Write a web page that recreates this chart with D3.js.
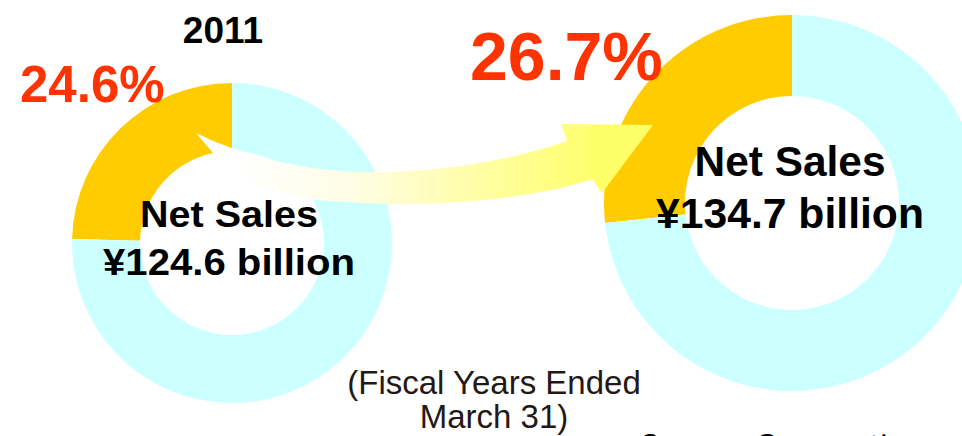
<!DOCTYPE html>
<html>
<head>
<meta charset="utf-8">
<script src="https://cdn.jsdelivr.net/npm/d3@7"></script>
<style>
  html, body { margin: 0; padding: 0; background: #ffffff; }
  svg { display: block; }
</style>
</head>
<body>
<svg id="chart" width="962" height="436"></svg>
<script>
// Share of net sales (percent) shown as the gold wedge of each ring
const shares = [24.6, 26.7];
// Net sales in billions of yen, printed in each ring's centre
const netSales = [124.6, 134.7];
// Year caption (only the earlier ring carries one)
const yearLabels = ["2011", null];
const footnote = ["(Fiscal Years Ended", "March 31)"];
const company = "Sysmex Corporation";

const svg = d3.select("#chart");

// Ring geometry for the two years
const rings = [
  { cx: 232, cy: 243, r0: 92,  r1: 160, pctX: 20,  pctY: 102, pctSize: 51,
    yearX: 223, yearY: 43, textSize: 36, l1Y: 227, l2Y: 275, l1W: 178, l2W: 252, textX: 229 },
  { cx: 792, cy: 203, r0: 107, r1: 188, pctX: 470, pctY: 80,  pctSize: 68,
    yearX: null, yearY: null, textSize: 42, l1Y: 176, l2Y: 228, l1W: 191, l2W: 268, textX: 790 }
];

const colors = { share: "#ffcc00", rest: "#ccffff", pct: "#ff3300" };

// Gold wedge grows counter-clockwise from 12 o'clock
const pie = d3.pie().sort(null).value(d => d.v)
  .startAngle(0).endAngle(-2 * Math.PI);

rings.forEach((g, i) => {
  const arc = d3.arc().innerRadius(g.r0).outerRadius(g.r1);
  const slices = pie([{ k: "share", v: shares[i] }, { k: "rest", v: 100 - shares[i] }]);
  svg.append("g")
    .attr("transform", `translate(${g.cx},${g.cy})`)
    .selectAll("path")
    .data(slices)
    .join("path")
    .attr("d", arc)
    .attr("fill", d => colors[d.data.k]);
});

// Curved growth arrow running from the first ring to the second
const defs = svg.append("defs");
const grad = defs.append("linearGradient")
  .attr("id", "arrowGrad")
  .attr("gradientUnits", "userSpaceOnUse")
  .attr("x1", 240).attr("y1", 0).attr("x2", 600).attr("y2", 0);
grad.append("stop").attr("offset", 0).attr("stop-color", "#ffffff");
grad.append("stop").attr("offset", 0.3).attr("stop-color", "#fffde6");
grad.append("stop").attr("offset", 1).attr("stop-color", "#ffff6a");

const a = d3.path();
a.moveTo(196, 133);
a.bezierCurveTo(230, 150, 280, 165, 330, 170);
a.bezierCurveTo(410, 178, 505, 163, 567, 141);
a.lineTo(561, 124);
a.lineTo(653, 125);
a.lineTo(602, 193);
a.lineTo(592, 179);
a.bezierCurveTo(550, 194, 450, 211, 330, 201);
a.bezierCurveTo(280, 198, 235, 178, 213, 153);
a.closePath();
svg.append("path").attr("d", a.toString()).attr("fill", "url(#arrowGrad)");

const fmtPct = d => d.toFixed(1) + "%";
const fmtSales = d => "¥" + d.toFixed(1) + " billion";
const boldFont = "'Liberation Sans', Arial, Helvetica, sans-serif";

rings.forEach((g, i) => {
  svg.append("text")
    .attr("x", g.pctX).attr("y", g.pctY)
    .attr("font-family", boldFont).attr("font-weight", "bold")
    .attr("font-size", g.pctSize).attr("fill", colors.pct)
    .text(fmtPct(shares[i]));

  if (yearLabels[i]) {
    svg.append("text")
      .attr("x", g.yearX).attr("y", g.yearY)
      .attr("text-anchor", "middle")
      .attr("font-family", boldFont).attr("font-weight", "bold")
      .attr("font-size", 37).attr("fill", "#000")
      .text(yearLabels[i]);
  }

  svg.append("text")
    .attr("x", g.textX - g.l1W / 2).attr("y", g.l1Y)
    .attr("textLength", g.l1W).attr("lengthAdjust", "spacingAndGlyphs")
    .attr("font-family", boldFont).attr("font-weight", "bold")
    .attr("font-size", g.textSize).attr("fill", "#000")
    .text("Net Sales");

  svg.append("text")
    .attr("x", g.textX - g.l2W / 2).attr("y", g.l2Y)
    .attr("textLength", g.l2W).attr("lengthAdjust", "spacingAndGlyphs")
    .attr("font-family", boldFont).attr("font-weight", "bold")
    .attr("font-size", g.textSize).attr("fill", "#000")
    .text(fmtSales(netSales[i]));
});

// Period note
svg.append("g")
  .selectAll("text")
  .data(footnote)
  .join("text")
  .attr("x", 494)
  .attr("y", (d, i) => 394 + i * 34)
  .attr("text-anchor", "middle")
  .attr("font-family", "'Liberation Sans', Arial, sans-serif")
  .attr("font-size", 33)
  .attr("fill", "#231815")
  .text(d => d);

// Company name, running off the bottom edge
svg.append("text")
  .attr("x", 641).attr("y", 455)
  .attr("font-family", "'Open Sans', sans-serif")
  .attr("font-size", 30)
  .attr("fill", "#000")
  .text(company);
</script>
</body>
</html>
